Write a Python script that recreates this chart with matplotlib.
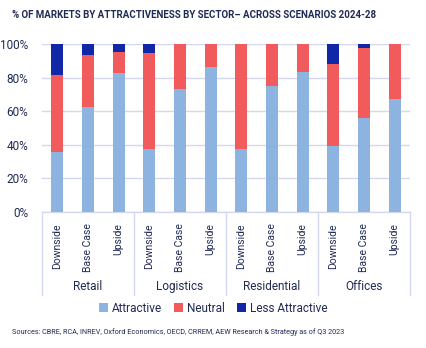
import matplotlib
matplotlib.use("Agg")
import matplotlib.pyplot as plt
import numpy as np

sectors = ["Retail", "Logistics", "Residential", "Offices"]
scenarios = ["Downside", "Base Case", "Upside"]
attractive = [36, 62.5, 82.7, 37.5, 73, 86.3, 37.5, 75, 83.3, 39.3, 55.8, 67.3]
neutral = [45.5, 31, 12.5, 57, 27, 13.7, 62.5, 25, 16.7, 49, 41.8, 32.7]
less_attr = [18.5, 6.5, 4.8, 5.5, 0, 0, 0, 0, 0, 11.7, 2.4, 0]
yticks = [0, 20, 40, 60, 80, 100]

c_attr = "#8db3e0"
c_neu = "#f25b5c"
c_less = "#1226a8"
c_grid = "#d3d7ef"
c_text = "#1f2a55"

plt.rcParams['font.family'] = ['Roboto', 'DejaVu Sans']

fig = plt.figure(figsize=(4.27, 3.48), dpi=100)
ax = fig.add_axes([42/427, 1-212/348, (410-42)/427, 168/348])

x = np.arange(len(attractive))
a = np.array(attractive); n = np.array(neutral); l = np.array(less_attr)
w = 0.4
ax.bar(x, a, w, color=c_attr, label="Attractive", zorder=3)
ax.bar(x, n, w, bottom=a, color=c_neu, label="Neutral", zorder=3)
ax.bar(x, l, w, bottom=a+n, color=c_less, label="Less Attractive", zorder=3)

ax.set_ylim(0, 100)
ax.set_xlim(-0.5, len(x)-0.5)
ax.set_yticks(yticks)
ax.set_yticklabels([f"{v}%" for v in yticks], color=c_text, fontsize=8.5)
ax.yaxis.grid(True, color=c_grid, linewidth=1, zorder=0)
for s in ["left", "right", "top"]:
    ax.spines[s].set_visible(False)
ax.spines["bottom"].set_color(c_grid)
ax.spines["bottom"].set_linewidth(1)
ax.tick_params(axis="both", length=0)
ax.tick_params(axis="y", pad=10)

ax.set_xticks(x)
ax.set_xticklabels(scenarios * len(sectors), rotation=90, fontsize=7.5, color=c_text, va="top")
ax.tick_params(axis="x", pad=8)

trans = ax.get_xaxis_transform()
bottom_sep = -(295-212)/168
for b in np.arange(-0.5, len(x), 3):
    ax.plot([b, b], [0, bottom_sep], transform=trans, color=c_grid, lw=1, clip_on=False)
for i, s in enumerate(sectors):
    ax.text(3*i+1, -(290-212)/168, s, transform=trans, ha="center", va="baseline",
            fontsize=8.5, color=c_text)

handles, labels = ax.get_legend_handles_labels()
fig.legend(handles, labels, loc="center", bbox_to_anchor=(213/427, 1-308/348), ncol=3,
           frameon=False, fontsize=8.5, handlelength=0.8, handleheight=0.8,
           handletextpad=0.3, columnspacing=1.0, labelcolor=c_text)

fig.text(12/427, 1-15/348, "% OF MARKETS BY ATTRACTIVENESS BY SECTOR\u2013 ACROSS SCENARIOS 2024-28",
         fontsize=7.0, fontweight="bold", color=c_text, va="center", ha="left")
fig.text(12/427, 1-332/348, "Sources: CBRE, RCA, INREV, Oxford Economics, OECD, CRREM, AEW Research & Strategy as of Q3 2023",
         fontsize=5.2, color=c_text, va="center", ha="left")

fig.savefig("out.png", dpi=100)
